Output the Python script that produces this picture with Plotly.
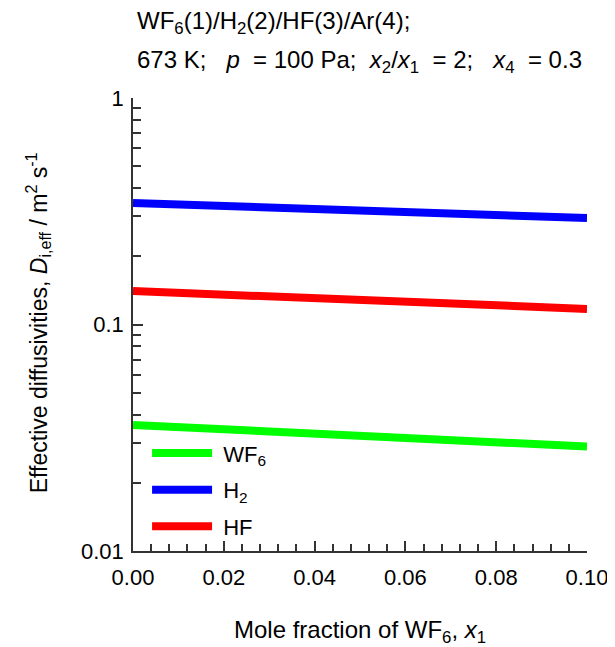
import plotly.graph_objects as go

x1 = [0.0, 0.02, 0.04, 0.06, 0.08, 0.10]
D_WF6 = [0.0360, 0.0344, 0.0330, 0.0316, 0.0302, 0.0289]
D_H2 = [0.344, 0.333, 0.322, 0.313, 0.304, 0.295]
D_HF = [0.1405, 0.1355, 0.1305, 0.126, 0.1215, 0.1172]

names = ["WF<sub>6</sub>", "H<sub>2</sub>", "HF"]
colors = ["#00ff00", "#0000ff", "#ff0000"]
series = [D_WF6, D_H2, D_HF]

y_major = [0.01, 0.1, 1]
y_major_text = ["0.01", "0.1", "1"]
y_minor = [m * 10 ** e for e in (-2, -1) for m in range(2, 10)]

FONT = "Arial, Liberation Sans, sans-serif"
AX = "#333"
NB = "&nbsp;"

fig = go.Figure()
for n, c, s in zip(names, colors, series):
    fig.add_trace(go.Scatter(x=x1, y=s, mode="lines", name=NB + n, legendgroup=n,
                             line=dict(color=c, width=8)))

# the page body adds an 8px offset, so the figure is 8px smaller than the window
fig.update_layout(
    width=607, height=639,
    margin=dict(l=125, r=28, t=90, b=96),
    plot_bgcolor="white", paper_bgcolor="white",
    font=dict(family=FONT, size=22, color="black"),
    showlegend=True,
    legend=dict(x=0.031, y=0.262, xanchor="left", yanchor="top",
                bgcolor="rgba(0,0,0,0)", font=dict(size=22),
                itemwidth=60, tracegroupgap=5),
    xaxis=dict(range=[0, 0.1], dtick=0.02, tickformat=".2f", automargin=False,
               showline=True, linecolor=AX, linewidth=1.5,
               ticks="inside", ticklen=10, tickcolor=AX, tickwidth=1.5,
               showgrid=False, zeroline=False, ticklabelstandoff=6,
               minor=dict(dtick=0.004, ticks="inside", ticklen=7, tickcolor=AX, tickwidth=1.5),
               tickfont=dict(size=22)),
    yaxis=dict(type="log", range=[-2, 0], tickvals=y_major, ticktext=y_major_text, automargin=False,
               showline=True, linecolor=AX, linewidth=1.5,
               ticks="inside", ticklen=10, tickcolor=AX, tickwidth=1.5,
               showgrid=False, zeroline=False, ticklabelstandoff=3,
               minor=dict(tickvals=y_minor, ticks="inside", ticklen=8, tickcolor=AX, tickwidth=1.5),
               tickfont=dict(size=22)),
)

# chart title (two lines)
fig.add_annotation(text="WF<sub>6</sub>(1)/H<sub>2</sub>(2)/HF(3)/Ar(4);",
                   xref="paper", yref="paper", x=0.005, y=1.166, xanchor="left", yanchor="middle",
                   showarrow=False, font=dict(size=24))
fig.add_annotation(text=(f"673 K;{NB}{NB} <i>p</i>{NB} = 100 Pa;{NB} <i>x</i><sub>2</sub>/"
                         f"<i>x</i><sub>1</sub>{NB} = 2;{NB}{NB} <i>x</i><sub>4</sub>{NB} = 0.3"),
                   xref="paper", yref="paper", x=0.005, y=1.080, xanchor="left", yanchor="middle",
                   showarrow=False, font=dict(size=24))
# axis titles
fig.add_annotation(text="Mole fraction of WF<sub>6</sub>, <i>x</i><sub>1</sub>",
                   xref="paper", yref="paper", x=0.5, y=-0.177, xanchor="center", yanchor="middle",
                   showarrow=False, font=dict(size=24))
fig.add_annotation(text="Effective diffusivities, <i>D</i><sub>i,eff</sub> / m<sup>2</sup> s<sup>-1</sup>",
                   xref="paper", yref="paper", x=-0.209, y=0.503, xanchor="center", yanchor="middle",
                   textangle=-90, showarrow=False, font=dict(size=23))

fig.write_html("out.html")
